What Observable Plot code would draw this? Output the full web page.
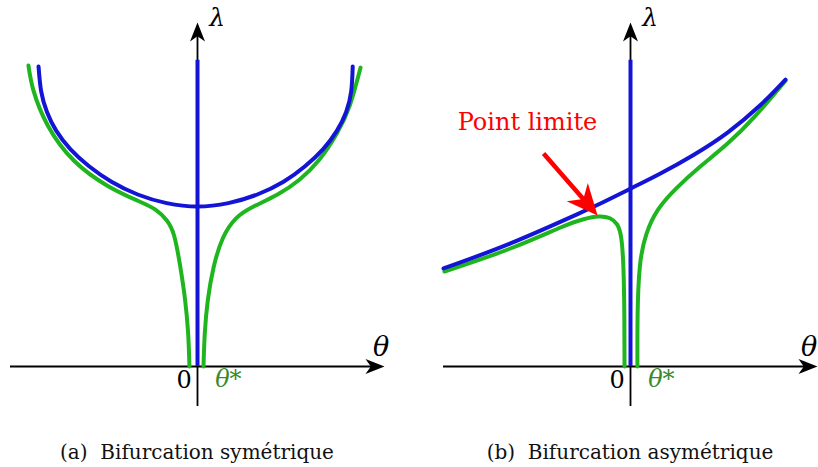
<!DOCTYPE html>
<html><head><meta charset="utf-8">
<script src="https://cdn.jsdelivr.net/npm/d3@7"></script>
<script src="https://cdn.jsdelivr.net/npm/@observablehq/plot@0.6"></script>
<style>
body{margin:0;width:818px;height:467px;overflow:hidden;background:#fff;font-family:"DejaVu Serif",serif;}
#wrap{position:relative;width:818px;height:467px;overflow:hidden;}
.panel{position:absolute;top:0;width:409px;height:467px;}
.panel svg{overflow:visible;}
.cap{position:absolute;top:440px;font-size:20px;line-height:24px;white-space:pre;transform:translateX(-50%);color:#111;font-family:"DejaVu Serif",serif;}
</style></head><body><div id="wrap"></div>
<script>
// ---------- data (θ on x, λ on y) ----------
const captions = ["(a)  Bifurcation symétrique", "(b)  Bifurcation asymétrique"];
const axisLabels = ["λ", "θ", "0", "θ*"];
const blueVertTop = 0.89;

// Panel (a): symmetric bifurcation
const blueArcA = [[-0.85,0.872],[-0.836,0.800],[-0.805,0.740],[-0.755,0.685],[-0.68,0.632],[-0.58,0.582],[-0.46,0.537],[-0.32,0.500],[-0.165,0.475],[0,0.465],[0.165,0.475],[0.32,0.500],[0.46,0.537],[0.575,0.582],[0.672,0.632],[0.745,0.685],[0.795,0.740],[0.822,0.800],[0.83,0.872]];
const greenLeftA = [[-0.904,0.875],[-0.877,0.802],[-0.80,0.700],[-0.66,0.598],[-0.48,0.525],[-0.32,0.482],[-0.225,0.456],[-0.165,0.425],[-0.125,0.380],[-0.092,0.290],[-0.066,0.192],[-0.050,0.096],[-0.043,0]];
const greenRightA = [[0.032,0],[0.039,0.096],[0.055,0.192],[0.086,0.288],[0.135,0.372],[0.205,0.430],[0.30,0.465],[0.428,0.500],[0.545,0.543],[0.650,0.600],[0.745,0.677],[0.815,0.760],[0.872,0.869]];

// Panel (b): asymmetric bifurcation
const blueCurveB = [[-1.0,0.285],[-0.642,0.358],[-0.283,0.443],[-0.144,0.478],[0,0.517],[0.160,0.561],[0.337,0.615],[0.519,0.680],[0.695,0.760],[0.829,0.834]];
const greenLeftB = [[-0.995,0.276],[-0.642,0.343],[-0.374,0.404],[-0.251,0.428],[-0.171,0.436],[-0.110,0.431],[-0.072,0.413],[-0.050,0.375],[-0.038,0.288],[-0.033,0.150],[-0.032,0]];
const greenRightB = [[0.037,0],[0.038,0.150],[0.050,0.290],[0.085,0.385],[0.150,0.458],[0.245,0.518],[0.370,0.580],[0.519,0.648],[0.670,0.730],[0.829,0.831]];

const limitLabel = "Point limite";
const limitLabelAt = [-0.551, 0.709];
const limitArrowFrom = [-0.465, 0.619];
const limitArrowTo = [-0.176, 0.439];

// ---------- styles ----------
const BLUE = "#1414d6", GREEN = "#1fb51f", DARKGREEN = "#3a8a2a", RED = "#ff0000";
const SERIF = "DejaVu Serif";

function stealth(L, W, n) {
  return {draw(ctx) { ctx.moveTo(0, 0); ctx.lineTo(W / 2, L); ctx.lineTo(0, L * n); ctx.lineTo(-W / 2, L); ctx.closePath(); }};
}
const axisHead = stealth(19, 15, 0.72);
const redHead = stealth(31, 28, 0.7);

function curve(pts, color) {
  return Plot.line(pts, {x: d => d[0], y: d => d[1], stroke: color, strokeWidth: 4, curve: "natural"});
}

function panel({xRange, thetaX, curves, extra}) {
  const marks = [
    Plot.ruleY([0], {x1: -1, x2: 0.96, stroke: "#000", strokeWidth: 1.8}),
    Plot.ruleX([0], {y1: -0.116, y2: 0.96, stroke: "#000", strokeWidth: 1.8}),
    Plot.dot([[1, 0]], {x: d => d[0], y: d => d[1], symbol: axisHead, rotate: 90, fill: "#000", stroke: "none"}),
    Plot.dot([[0, 1]], {x: d => d[0], y: d => d[1], symbol: axisHead, rotate: 0, fill: "#000", stroke: "none"}),
    ...curves,
    Plot.ruleX([0], {y1: 0, y2: blueVertTop, stroke: BLUE, strokeWidth: 4}),
    Plot.text([axisLabels[0]], {x: 0.105, y: 1.012, fontFamily: SERIF, fontStyle: "italic", fontSize: 25, fill: "#000", lineAnchor: "middle"}),
    Plot.text([axisLabels[1]], {x: thetaX, y: 0.057, fontFamily: SERIF, fontStyle: "italic", fontSize: 27, fill: "#000", lineAnchor: "middle"}),
    Plot.text([axisLabels[2]], {x: -0.072, y: -0.04, fontFamily: SERIF, fontSize: 24, fill: "#000", lineAnchor: "middle"}),
    Plot.text([axisLabels[3]], {x: 0.165, y: -0.036, fontFamily: SERIF, fontStyle: "italic", fontSize: 24, fill: DARKGREEN, lineAnchor: "middle"}),
    ...(extra || [])
  ];
  return Plot.plot({
    width: 409, height: 440,
    margin: 0,
    x: {domain: [-1, 1], range: xRange, axis: null},
    y: {domain: [0, 1], range: [366, 22], axis: null},
    style: {background: "transparent", overflow: "visible"},
    marks
  });
}

const wrap = document.getElementById("wrap");

const pa = panel({
  xRange: [10, 384],
  thetaX: 0.982,
  curves: [curve(greenLeftA, GREEN), curve(greenRightA, GREEN), curve(blueArcA, BLUE)]
});

const f = 0.8;
const shaftEnd = [limitArrowFrom[0] + (limitArrowTo[0] - limitArrowFrom[0]) * f, limitArrowFrom[1] + (limitArrowTo[1] - limitArrowFrom[1]) * f];
const pb = panel({
  xRange: [34, 408],
  thetaX: 0.955,
  curves: [curve(greenLeftB, GREEN), curve(greenRightB, GREEN), curve(blueCurveB, BLUE)],
  extra: [
    Plot.link([[limitArrowFrom, shaftEnd]], {x1: d => d[0][0], y1: d => d[0][1], x2: d => d[1][0], y2: d => d[1][1], stroke: RED, strokeWidth: 4.5}),
    Plot.dot([limitArrowTo], {x: d => d[0], y: d => d[1], symbol: redHead, rotate: 139, fill: RED, stroke: "none"}),
    Plot.text([limitLabel], {x: limitLabelAt[0], y: limitLabelAt[1], fontFamily: SERIF, fontSize: 24, fill: RED, lineAnchor: "middle"})
  ]
});

[[pa, 0, 197], [pb, 409, 630]].forEach(([svg, left, cx], i) => {
  const d = document.createElement("div");
  d.className = "panel"; d.style.left = left + "px";
  d.appendChild(svg);
  wrap.appendChild(d);
  const c = document.createElement("div");
  c.className = "cap"; c.style.left = cx + "px";
  c.textContent = captions[i];
  wrap.appendChild(c);
});
</script></body></html>
